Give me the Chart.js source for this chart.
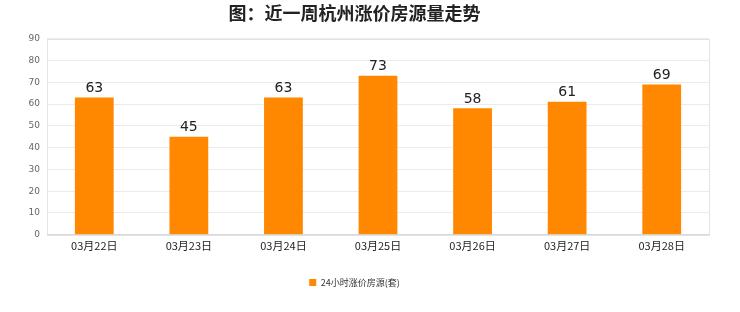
<!DOCTYPE html>
<html><head><meta charset="utf-8">
<script src="https://cdn.jsdelivr.net/npm/chart.js@4/dist/chart.umd.min.js"></script>
<style>html,body{margin:0;padding:0;background:#fff}#wrap{width:740px;height:312px}</style>
</head><body><div id="wrap"><canvas id="c" width="740" height="312"></canvas></div>
<script>
const categories = ["03月22日","03月23日","03月24日","03月25日","03月26日","03月27日","03月28日"];
const values = [63,45,63,73,58,61,69];
const seriesName = "24小时涨价房源(套)";
const titleText = "图：近一周杭州涨价房源量走势";
const yTicks = [0,10,20,30,40,50,60,70,80,90];

const boxPlugin = {
  id:'box',
  beforeDatasetsDraw(chart){
    const a = chart.chartArea, ctx = chart.ctx;
    ctx.save(); ctx.strokeStyle='#e3e3e3'; ctx.lineWidth=1;
    ctx.strokeRect(Math.round(a.left)+0.5, Math.round(a.top)+0.5, Math.round(a.right-a.left), Math.round(a.bottom-a.top));
    ctx.restore();
  },
  afterDatasetsDraw(chart){
    const ctx = chart.ctx; const meta = chart.getDatasetMeta(0);
    ctx.save(); ctx.fillStyle='#222'; ctx.font='14px "DejaVu Sans", sans-serif';
    ctx.textAlign='center'; ctx.textBaseline='bottom';
    meta.data.forEach((el,i)=>{ ctx.fillText(String(values[i]), el.x, el.y-2); });
    ctx.restore();
  }
};

new Chart(document.getElementById('c'), {
  type:'bar',
  data:{labels:categories, datasets:[{label:seriesName, data:values, backgroundColor:'#ff8800', borderWidth:0, categoryPercentage:1, barPercentage:0.41}]},
  options:{
    responsive:false, animation:false, devicePixelRatio:1,
    layout:{padding:{left:0,right:31,top:0,bottom:15}},
    plugins:{
      title:{display:true, text:titleText, color:'#222', font:{family:'"Noto Sans CJK SC"', size:18, weight:'bold'}, padding:{top:2,bottom:15}},
      legend:{position:'bottom', labels:{boxWidth:7, boxHeight:7, color:'#333', font:{family:'"Noto Sans CJK SC"', size:9}, padding:10}},
      tooltip:{enabled:false}
    },
    scales:{
      x:{grid:{display:false, drawTicks:false}, border:{color:'#d8d8d8'}, afterFit(s){s.height+=12;},
         ticks:{color:'#222', font:{family:'"Noto Sans CJK SC"', size:11}, padding:4}},
      y:{min:0,max:90, afterBuildTicks(s){s.ticks=yTicks.map(v=>({value:v}));}, afterFit(s){s.width=47;},
         grid:{color:'#ebebeb', drawTicks:false}, border:{display:false},
         ticks:{color:'#666', font:{family:'"DejaVu Sans"', size:9}, padding:7}}
    }
  },
  plugins:[boxPlugin]
});
</script></body></html>
